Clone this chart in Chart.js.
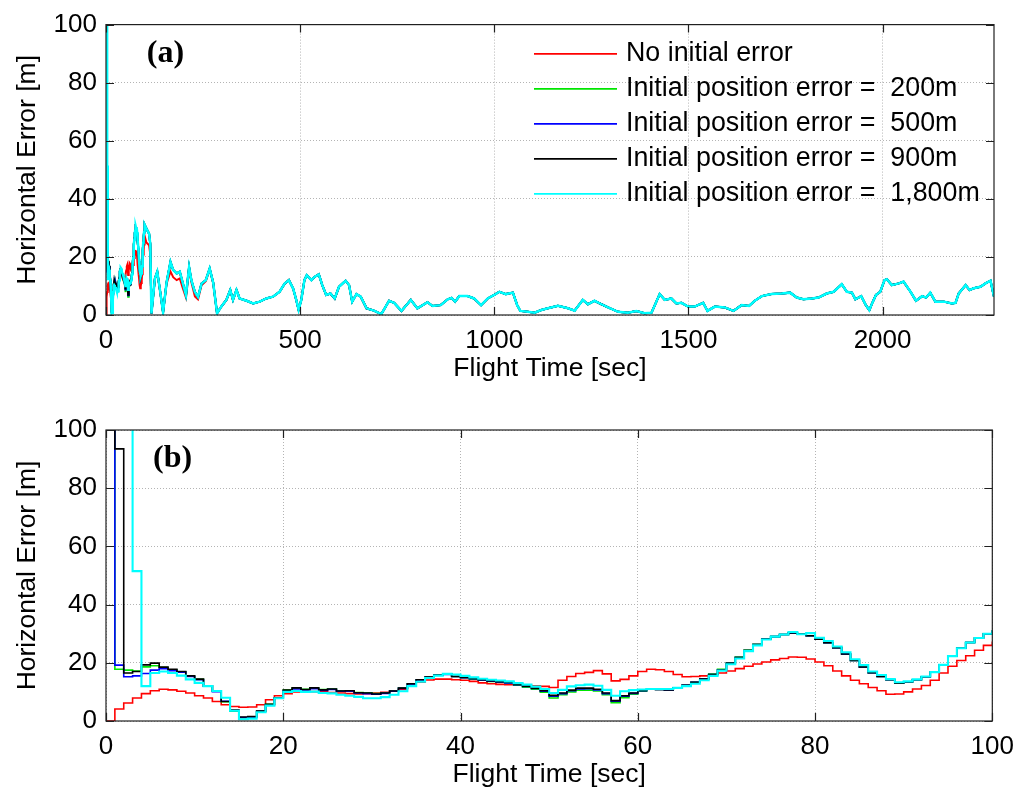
<!DOCTYPE html>
<html>
<head>
<meta charset="utf-8">
<title>Horizontal error vs flight time</title>
<script src="https://cdn.jsdelivr.net/npm/chart.js@4.4.1/dist/chart.umd.min.js"></script>
<style>
  html, body { margin: 0; padding: 0; background: #fff; }
  #wrap { position: relative; width: 1024px; height: 803px; overflow: hidden; }
  #wrap canvas { position: absolute; left: 0; }
  #chartA { top: 0; }
  #chartB { top: 400px; }
</style>
</head>
<body>
<div id="wrap">
  <canvas id="chartA" width="1024" height="400"></canvas>
  <canvas id="chartB" width="1024" height="403"></canvas>
</div>
<script>
// ---- values ----
const seriesLabels = [
  'No initial error',
  'Initial position error =  200m',
  'Initial position error =  500m',
  'Initial position error =  900m',
  'Initial position error =  1,800m'
];
const seriesColors = ['#ff0000', '#00e600', '#0000ff', '#000000', '#00ffff'];

const yTicks = [0, 20, 40, 60, 80, 100];
const topXTicks = [0, 500, 1000, 1500, 2000];
const bottomXTicks = [0, 20, 40, 60, 80, 100];

// first 100 s, one value per second (panel b, also the start of panel a)
const redFirst = [
  0, 4.1, 6.2, 7.9, 9.4, 10.4, 10.9, 10.7, 10.2, 9.6,
  8.7, 7.9, 6.7, 5.6, 5.0, 4.7, 4.8, 5.6, 7.3, 8.7,
  9.4, 10.0, 10.2, 10.1, 10.0, 9.8, 9.6, 9.4, 9.3, 9.4,
  9.6, 9.9, 10.3, 10.8, 12.2, 13.3, 14.1, 14.4, 14.4, 14.2,
  14.0, 13.6, 13.1, 12.8, 12.6, 12.5, 12.5, 12.3, 12.1, 11.9,
  11.5, 14.0, 15.3, 16.3, 16.7, 17.3, 16.2, 13.8, 14.3, 15.5,
  17.0, 17.8, 17.6, 17.0, 16.0, 15.2, 15.3, 15.5, 15.9, 16.5,
  17.2, 18.0, 18.8, 19.6, 20.3, 21.0, 21.5, 22.0, 21.9, 21.3,
  20.3, 19.0, 17.2, 15.5, 14.0, 12.8, 11.5, 10.4, 9.2, 9.3,
  10.0, 11.0, 12.2, 14.0, 16.5, 18.8, 20.8, 22.4, 24.3, 26.0,
  27.3
];
const greenFirst = [
  200, 17.8, 17.5, 17.2, 18.6, 19.0, 18.4, 17.6, 16.9, 15.4,
  14.3, 12.1, 10.2, 6.6, 3.4, 1.1, 1.2, 3.3, 5.7, 8.0,
  10.6, 11.3, 10.9, 11.3, 10.8, 11.0, 10.4, 10.4, 9.8, 9.7,
  9.4, 9.7, 10.3, 11.3, 12.8, 14.2, 15.1, 15.8, 16.1, 15.3,
  14.9, 14.4, 14.0, 13.6, 13.3, 13.0, 12.3, 11.6, 10.9, 9.9,
  7.9, 9.0, 10.0, 10.6, 10.6, 10.3, 9.0, 6.3, 8.0, 9.2,
  10.2, 10.9, 10.8, 10.7, 11.4, 12.3, 13.3, 14.5, 16.1, 17.8,
  20.0, 22.0, 24.4, 26.4, 28.2, 29.0, 29.7, 30.3, 30.0, 29.3,
  28.1, 26.9, 25.2, 23.0, 20.8, 18.6, 16.6, 15.3, 14.2, 13.0,
  13.4, 14.2, 15.2, 16.8, 19.3, 22.3, 25.0, 27.0, 28.5, 30.0,
  31.1
];
const blueFirst = [
  500, 19.2, 15.2, 15.5, 16.3, 17.5, 18.0, 17.3, 16.8, 15.3,
  14.2, 12.0, 10.1, 6.8, 3.6, 1.2, 1.3, 3.3, 5.6, 7.9,
  10.4, 11.0, 10.7, 11.1, 10.5, 10.8, 10.2, 10.2, 9.6, 9.4,
  9.2, 9.5, 10.2, 11.2, 12.7, 14.1, 15.0, 15.7, 16.0, 15.3,
  14.9, 14.5, 14.1, 13.7, 13.4, 13.1, 12.5, 11.9, 11.2, 10.2,
  8.5, 9.4, 10.4, 11.0, 11.1, 10.7, 9.4, 6.8, 8.5, 9.5,
  10.4, 11.0, 10.8, 10.7, 11.4, 12.3, 13.3, 14.4, 16.0, 17.6,
  19.8, 21.8, 24.2, 26.3, 28.2, 29.0, 29.7, 30.3, 30.0, 29.3,
  28.1, 26.9, 25.2, 23.0, 20.8, 18.6, 16.6, 15.3, 14.2, 13.0,
  13.4, 14.2, 15.2, 16.8, 19.3, 22.3, 25.0, 27.0, 28.5, 30.0,
  31.1
];
const blackFirst = [
  900, 93.5, 16.5, 17.0, 19.3, 19.9, 18.5, 17.8, 17.0, 15.5,
  14.4, 12.0, 10.2, 6.7, 3.8, 1.4, 1.5, 3.4, 5.7, 8.0,
  10.6, 11.4, 10.8, 11.4, 10.7, 11.0, 10.3, 10.4, 9.7, 9.6,
  9.3, 9.6, 10.3, 11.3, 12.8, 14.2, 15.1, 15.8, 16.2, 15.3,
  15.0, 14.6, 14.2, 13.8, 13.5, 13.3, 12.6, 12.0, 11.3, 10.4,
  8.8, 9.6, 10.6, 11.3, 11.3, 10.9, 9.6, 7.0, 8.7, 9.6,
  10.5, 11.1, 10.8, 10.7, 11.4, 12.3, 13.3, 14.4, 16.0, 17.6,
  19.8, 21.8, 24.2, 26.3, 28.2, 29.0, 29.7, 30.3, 30.0, 29.3,
  28.1, 26.9, 25.2, 23.0, 20.8, 18.6, 16.6, 15.3, 14.2, 13.0,
  13.4, 14.2, 15.2, 16.8, 19.3, 22.3, 25.0, 27.0, 28.5, 30.0,
  31.1
];
const cyanFirst = [
  1800, 1800, 1800, 51.5, 12.0, 16.5, 17.0, 16.5, 15.6, 14.3,
  13.1, 12.0, 10.3, 8.0, 3.5, 0.6, 0.8, 3.0, 5.3, 7.8,
  10.0, 10.3, 10.0, 10.1, 9.6, 9.5, 9.0, 8.7, 8.3, 7.8,
  7.8, 8.2, 9.0, 10.2, 12.0, 13.5, 14.8, 15.6, 16.2, 16.0,
  15.5, 15.0, 14.5, 14.2, 13.9, 13.6, 13.0, 12.5, 11.8, 11.0,
  9.6, 10.7, 11.9, 12.3, 12.5, 12.1, 10.7, 8.7, 10.2, 10.6,
  10.8, 11.0, 11.0, 11.0, 11.4, 12.0, 12.8, 14.0, 15.5, 17.3,
  19.5, 21.5, 24.0, 26.0, 28.0, 29.0, 29.7, 30.6, 29.8, 30.2,
  28.6, 27.5, 25.6, 23.6, 21.2, 19.2, 17.0, 15.8, 14.4, 13.3,
  13.6, 14.3, 15.3, 16.8, 19.3, 22.3, 25.0, 27.0, 28.5, 30.0,
  31.1
];

// panel a, 100..280 s: the red run sits a little lower than the others
const midTimes = [104, 111, 114, 117, 126, 132, 139, 147, 156, 166, 173, 182,
  190, 197, 206, 214, 220, 229, 237, 246, 257, 267, 276];
const midOthers = [29.8, 28, 24.5, 0.5, 12.6, 14.9, 8.6, 0.9, 11.2, 18.3, 15.5, 14.3,
  14.9, 11.4, 6.8, 16.5, 11.9, 7.9, 6.2, 10.8, 12, 16, 11.2];
const midRed = [25.0, 24.0, 21.0, 0.5, 12.4, 14.5, 8.4, 0.9, 10.8, 15.0, 13.0, 12.0,
  12.6, 9.6, 6.0, 15.6, 11.3, 6.4, 5.4, 10.2, 11.6, 15.6, 11.0];

// panel a, after ~280 s all five runs coincide
const tailTimes = [
  286, 297, 310, 320, 327, 336, 344, 362, 379, 396,
  413, 430, 447, 460, 471, 482, 490, 496, 503, 511,
  517, 529, 537, 548, 557, 567, 578, 589, 600, 617,
  626, 634, 645, 656, 671, 690, 709, 729, 742, 761,
  785, 802, 828, 841, 862, 880, 890, 899, 910, 931,
  948, 966, 983, 1000, 1013, 1030, 1048, 1059, 1067, 1086,
  1104, 1121, 1138, 1164, 1190, 1207, 1228, 1241, 1258, 1276,
  1293, 1319, 1344, 1366, 1387, 1405, 1426, 1439, 1456, 1469,
  1482, 1499, 1516, 1538, 1549, 1568, 1594, 1616, 1637, 1656,
  1671, 1689, 1714, 1740, 1762, 1779, 1796, 1818, 1835, 1856,
  1874, 1895, 1908, 1921, 1930, 1945, 1957, 1966, 1973, 1983,
  1994, 2005, 2011, 2024, 2042, 2054, 2072, 2086, 2102, 2112,
  2123, 2136, 2158, 2179, 2188, 2196, 2214, 2224, 2235, 2252,
  2265, 2278, 2287
];
const tailValues = [
  0.6, 2.9, 5.2, 8.6, 5.2, 8.6, 5.7, 4.9, 4.0, 4.6,
  5.7, 6.3, 8.0, 10.8, 12, 9.1, 5.2, 1.8, 5.2, 12,
  13.7, 12, 13.1, 14, 10.3, 6.9, 7.4, 5.7, 9.7, 11.8,
  10.3, 4.6, 7.2, 6.3, 2.3, 1.5, 0.3, 4.9, 4.2, 1.4,
  5.2, 2.3, 4.4, 3.1, 3.4, 5.4, 5.9, 4.6, 6.5, 6.5,
  5.7, 3.4, 5.7, 6.9, 8, 7.2, 7.7, 3.4, 1.4, 1.1,
  0.8, 1.7, 2.3, 3.2, 2.3, 1.5, 5.2, 3.7, 4.9, 3.7,
  2.6, 1.1, 0.8, 1.4, 0.6, 0.8, 7.2, 5.2, 5.7, 4.0,
  4.2, 2.9, 2.9, 4.2, 1.4, 2.9, 2.6, 1.4, 3.4, 3.1,
  4.9, 6.5, 7.2, 7.4, 7.7, 6, 5.4, 5.7, 6, 7.4,
  8, 10.6, 8, 7.7, 5.4, 6.5, 3.4, 1.7, 4.0, 6.9,
  8, 12, 12.3, 10.3, 10.9, 11.5, 8, 4.9, 6.5, 6,
  7.7, 4.6, 4.6, 4.0, 4.2, 7.4, 10.3, 8.6, 9.2, 9.7,
  10.9, 11.8, 6.3
];

const firstRuns = [redFirst, greenFirst, blueFirst, blackFirst, cyanFirst];
const midRuns = [midRed, midOthers, midOthers, midOthers, midOthers];

// ---- helpers ----
function perSecond(values) {
  return values.map((v, i) => ({ x: i, y: v }));
}
function pairs(times, values) {
  return times.map((t, i) => ({ x: t, y: values[i] }));
}

const FONT = '"Liberation Sans", Arial, sans-serif';

// frame, inward ticks, panel tag and legend drawn on top of the lines
const panelDecor = {
  id: 'panelDecor',
  afterDatasetsDraw(chart, args, opts) {
    const { ctx, chartArea: a, scales } = chart;
    const xs = scales.x, ys = scales.y;
    ctx.save();
    ctx.strokeStyle = '#202020';
    ctx.lineWidth = 1.2;
    ctx.strokeRect(a.left, a.top, a.right - a.left, a.bottom - a.top);
    ctx.beginPath();
    xs.ticks.forEach(t => {
      const px = Math.round(xs.getPixelForValue(t.value)) + 0.5;
      ctx.moveTo(px, a.bottom); ctx.lineTo(px, a.bottom - opts.tickLen);
      ctx.moveTo(px, a.top); ctx.lineTo(px, a.top + opts.tickLen);
    });
    ys.ticks.forEach(t => {
      const py = Math.round(ys.getPixelForValue(t.value)) + 0.5;
      ctx.moveTo(a.left, py); ctx.lineTo(a.left + opts.tickLen, py);
      ctx.moveTo(a.right, py); ctx.lineTo(a.right - opts.tickLen, py);
    });
    ctx.stroke();

    ctx.fillStyle = '#000';
    ctx.font = 'bold 32px "Liberation Serif", "Times New Roman", serif';
    ctx.textAlign = 'left';
    ctx.textBaseline = 'middle';
    ctx.fillText(opts.tag.text, xs.getPixelForValue(opts.tag.x), ys.getPixelForValue(opts.tag.y));

    if (opts.legend) {
      const L = opts.legend;
      ctx.font = '26.8px ' + FONT;
      chart.data.datasets.forEach((ds, i) => {
        const y = a.top + L.top + i * L.rowGap;
        ctx.strokeStyle = ds.borderColor;
        ctx.lineWidth = 1.6;
        ctx.beginPath();
        ctx.moveTo(a.left + L.left, y);
        ctx.lineTo(a.left + L.left + L.lineLen, y);
        ctx.stroke();
        ctx.fillText(ds.label, a.left + L.left + L.lineLen + L.textGap, y);
      });
    }
    ctx.restore();
  }
};

function makeDatasets(buildData, stepped, width) {
  return seriesLabels.map((label, i) => ({
    label: label,
    data: buildData(i),
    borderColor: seriesColors[i],
    borderWidth: i === 4 ? width + 0.5 : width,
    pointRadius: 0,
    tension: 0,
    stepped: stepped,
    order: 5 - i
  }));
}

function axisOptions(ticksArr, max, title, isX, padding) {
  return {
    type: 'linear',
    min: 0,
    max: max,
    afterBuildTicks: s => { s.ticks = ticksArr.map(v => ({ value: v })); },
    afterFit: s => { if (isX) s.height = 70; else s.width = 106; },
    ticks: {
      color: '#000',
      padding: padding,
      font: { family: FONT, size: 26 },
      callback: v => String(v)
    },
    grid: { color: '#b4b4b4', lineWidth: 1, drawTicks: false },
    border: { display: false, dash: [1, 2] },
    title: {
      display: true,
      text: title,
      color: '#000',
      font: { family: FONT, size: 26.5 },
      padding: isX ? { top: 0, bottom: 0 } : { top: 12, bottom: 0 }
    }
  };
}

function baseOptions(pad, xAxis, decor) {
  return {
    responsive: false,
    animation: false,
    events: [],
    layout: { padding: pad },
    plugins: { legend: { display: false }, tooltip: { enabled: false }, panelDecor: decor },
    scales: {
      x: xAxis,
      y: axisOptions(yTicks, 100, 'Horizontal Error [m]', false, 9)
    }
  };
}

// panel (a): whole flight
new Chart(document.getElementById('chartA'), {
  type: 'line',
  data: {
    datasets: makeDatasets(i => perSecond(firstRuns[i])
      .concat(pairs(midTimes, midRuns[i]))
      .concat(pairs(tailTimes, tailValues)), false, 2)
  },
  options: baseOptions(
    { top: 24, right: 30, bottom: 15, left: 0 },
    axisOptions(topXTicks, 2287, 'Flight Time [sec]', true, 10),
    {
      tickLen: 8,
      tag: { text: '(a)', x: 105, y: 90 },
      legend: { left: 428, top: 29.3, rowGap: 35, lineLen: 83, textGap: 9 }
    }
  ),
  plugins: [panelDecor]
});

// panel (b): first 100 seconds
new Chart(document.getElementById('chartB'), {
  type: 'line',
  data: { datasets: makeDatasets(i => perSecond(firstRuns[i]), true, 1.6) },
  options: baseOptions(
    { top: 30, right: 30, bottom: 12, left: 0 },
    axisOptions(bottomXTicks, 100, 'Flight Time [sec]', true, 10),
    { tickLen: 8, tag: { text: '(b)', x: 5.3, y: 90 } }
  ),
  plugins: [panelDecor]
});
</script>
</body>
</html>
